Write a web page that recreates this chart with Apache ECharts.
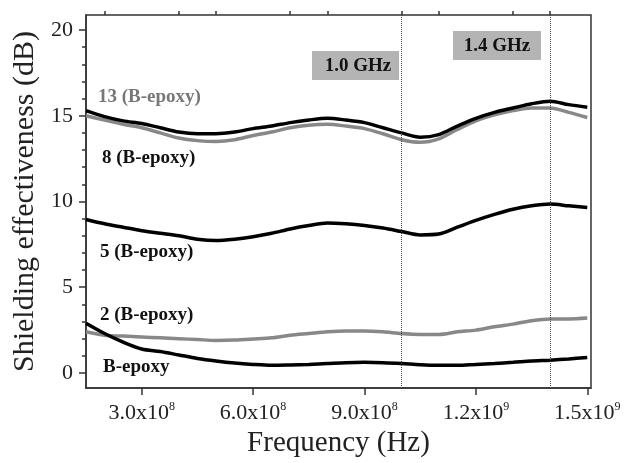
<!DOCTYPE html>
<html>
<head>
<meta charset="utf-8">
<script src="https://cdn.jsdelivr.net/npm/echarts@6/dist/echarts.min.js"></script>
<style>
html,body{margin:0;padding:0;background:#fff;}
#c{width:633px;height:463px;}
</style>
</head>
<body>
<div id="c"></div>
<script>
// Frequency grid (Hz)
const freq = [1.5e8,2.0e8,2.5e8,3.0e8,3.5e8,4.0e8,4.5e8,5.0e8,5.5e8,6.0e8,6.5e8,7.0e8,7.5e8,8.0e8,8.5e8,9.0e8,9.5e8,1.0e9,1.05e9,1.1e9,1.15e9,1.2e9,1.25e9,1.3e9,1.35e9,1.4e9,1.45e9,1.5e9];
// Shielding effectiveness (dB)
const se13 = [15.0,14.75,14.5,14.3,14.0,13.7,13.55,13.5,13.6,13.85,14.05,14.3,14.45,14.5,14.4,14.25,13.95,13.6,13.45,13.65,14.2,14.7,15.05,15.3,15.45,15.45,15.2,14.9];
const se8 = [15.3,14.95,14.7,14.55,14.3,14.05,13.95,13.95,14.05,14.25,14.4,14.6,14.75,14.85,14.75,14.6,14.3,14.0,13.75,13.9,14.4,14.85,15.2,15.45,15.7,15.85,15.65,15.5];
const se5 = [8.95,8.7,8.5,8.3,8.15,8.0,7.8,7.72,7.8,7.95,8.15,8.4,8.6,8.75,8.7,8.6,8.45,8.25,8.05,8.1,8.5,8.9,9.25,9.55,9.75,9.85,9.75,9.65];
const se2 = [2.4,2.2,2.15,2.1,2.05,2.0,1.95,1.9,1.92,1.98,2.05,2.2,2.3,2.4,2.45,2.45,2.4,2.3,2.25,2.25,2.4,2.5,2.7,2.85,3.05,3.15,3.15,3.2];
const seB = [2.9,2.3,1.8,1.4,1.25,1.05,0.85,0.7,0.58,0.5,0.45,0.47,0.5,0.55,0.6,0.62,0.6,0.55,0.48,0.45,0.45,0.5,0.55,0.62,0.7,0.75,0.82,0.9];

const xMajor = [3e8,6e8,9e8,1.2e9,1.5e9];
const xMinor = [2e8,4e8,5e8,7e8,8e8,1.0e9,1.1e9,1.3e9,1.4e9];
const yMajor = [0,5,10,15,20];
const yMinor = [1,2,3,4,6,7,8,9,11,12,13,14,16,17,18,19];
const markFreqs = [1.0e9,1.4e9];
const markLabels = ['1.0 GHz','1.4 GHz'];
const seriesNames = ['13 (B-epoxy)','8 (B-epoxy)','5 (B-epoxy)','2 (B-epoxy)','B-epoxy'];

const FONT = 'Liberation Serif';
const AX = '#333';

function pairs(ys){ return freq.map((f,i)=>[f,ys[i]]); }
function xfmt(v){
  const e = Math.floor(Math.log10(v)+1e-9);
  const m = (v/Math.pow(10,e)).toFixed(1);
  return m + 'x10{s|' + e + '}';
}

const chart = echarts.init(document.getElementById('c'));
const xBase = {type:'value', min:1.5e8, max:1.51e9, splitLine:{show:false}};
const yBase = {type:'value', min:-0.875, max:20.875, splitLine:{show:false}};
const LBL = 'bold 19px "Liberation Serif"';

chart.setOption({
  animation:false,
  backgroundColor:'#fff',
  grid:{left:86, right:42, top:15, bottom:75, show:true, borderColor:AX, borderWidth:1.5, backgroundColor:'transparent'},
  xAxis:[
    Object.assign({}, xBase, {
      name:'Frequency (Hz)', nameLocation:'middle', nameGap:36,
      nameTextStyle:{fontFamily:FONT, fontSize:29, color:'#222'},
      axisLine:{show:true, onZero:false, lineStyle:{color:AX, width:1.5}},
      axisTick:{show:true, length:7, customValues:xMajor, lineStyle:{color:AX, width:1.5}},
      axisLabel:{customValues:xMajor, margin:13, formatter:xfmt, fontFamily:FONT, fontSize:22, color:'#222',
        rich:{s:{fontFamily:FONT, fontSize:12, color:'#222', verticalAlign:'bottom', padding:[0,0,12,0]}}}
    }),
    Object.assign({}, xBase, {
      axisLine:{show:false, onZero:false},
      axisTick:{show:true, length:4, customValues:xMinor, lineStyle:{color:AX, width:1.5}},
      axisLabel:{show:false}
    })
  ],
  yAxis:[
    Object.assign({}, yBase, {
      name:'Shielding effectiveness (dB)', nameLocation:'middle', nameGap:42,
      nameTextStyle:{fontFamily:FONT, fontSize:30, color:'#222'},
      axisLine:{show:true, onZero:false, lineStyle:{color:AX, width:1.5}},
      axisTick:{show:true, length:7, customValues:yMajor, lineStyle:{color:AX, width:1.5}},
      axisLabel:{customValues:yMajor, margin:13, fontFamily:FONT, fontSize:22, color:'#222'}
    }),
    Object.assign({}, yBase, {
      position:'left',
      axisLine:{show:false, onZero:false},
      axisTick:{show:true, length:4, customValues:yMinor, lineStyle:{color:AX, width:1.5}},
      axisLabel:{show:false}
    })
  ],
  series:[
    {name:seriesNames[0], type:'line', data:pairs(se13), showSymbol:false, smooth:0.3,
      lineStyle:{color:'#888', width:3.5}, z:2,
      markLine:{silent:true, symbol:['none','none'], label:{show:false},
        lineStyle:{color:'#444', width:1, type:'dotted'},
        data:markFreqs.map(f=>({xAxis:f}))}},
    {name:seriesNames[1], type:'line', data:pairs(se8), showSymbol:false, smooth:0.3,
      lineStyle:{color:'#000', width:3.5}, z:3},
    {name:seriesNames[2], type:'line', data:pairs(se5), showSymbol:false, smooth:0.3,
      lineStyle:{color:'#000', width:3.5}, z:3},
    {name:seriesNames[3], type:'line', data:pairs(se2), showSymbol:false, smooth:0.3,
      lineStyle:{color:'#888', width:3.5}, z:2},
    {name:seriesNames[4], type:'line', data:pairs(seB), showSymbol:false, smooth:0.3,
      lineStyle:{color:'#000', width:3.5}, z:3}
  ],
  graphic:[
    {type:'rect', shape:{x:312, y:51, width:87, height:29}, style:{fill:'#b4b4b4'}, z:10},
    {type:'text', x:358, y:66, style:{text:markLabels[0], font:LBL, fill:'#111', align:'center', verticalAlign:'middle'}, z:11},
    {type:'rect', shape:{x:453, y:31, width:88, height:29}, style:{fill:'#b4b4b4'}, z:10},
    {type:'text', x:497, y:46, style:{text:markLabels[1], font:LBL, fill:'#111', align:'center', verticalAlign:'middle'}, z:11},
    {type:'text', x:98, y:97, style:{text:seriesNames[0], font:LBL, fill:'#777', verticalAlign:'middle'}, z:11},
    {type:'text', x:102, y:158, style:{text:seriesNames[1], font:LBL, fill:'#111', verticalAlign:'middle'}, z:11},
    {type:'text', x:100, y:252, style:{text:seriesNames[2], font:LBL, fill:'#111', verticalAlign:'middle'}, z:11},
    {type:'text', x:100, y:315, style:{text:seriesNames[3], font:LBL, fill:'#111', verticalAlign:'middle'}, z:11},
    {type:'text', x:103, y:367, style:{text:seriesNames[4], font:LBL, fill:'#111', verticalAlign:'middle'}, z:11}
  ]
});
</script>
</body>
</html>
